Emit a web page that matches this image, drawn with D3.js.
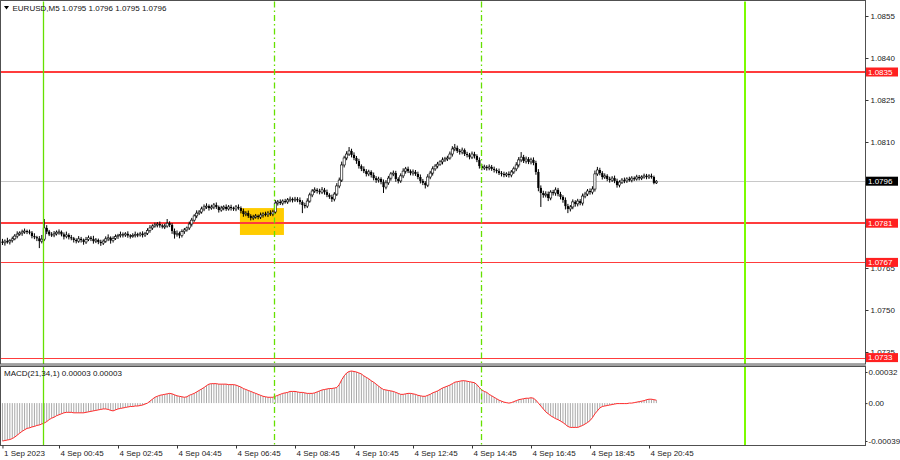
<!DOCTYPE html>
<html><head><meta charset="utf-8">
<script src="https://cdn.jsdelivr.net/npm/d3@7/dist/d3.min.js"></script>
<style>body{margin:0;background:#fff;} svg text{font-family:"Liberation Sans",Arial,sans-serif;}</style>
</head><body><svg id="c" width="900" height="460"></svg>
<script>
// ---- DATA (prices in pips above 1.0700, MACD in 1e-5) ----
const firstOpen = 74.4;
const closes = [
74.0,74.6,74.3,74.8,75.4,76.4,77.1,77.5,77.9,78.2,
78.0,77.6,76.4,76.0,75.6,74.6,75.3,79.3,78.0,77.0,
76.8,77.2,77.8,77.9,77.0,76.2,76.8,76.0,75.6,75.0,
74.6,75.4,75.0,74.3,75.2,75.8,75.4,74.6,75.0,74.3,
73.9,74.6,75.4,75.8,74.8,75.6,76.2,76.6,77.0,76.8,
77.2,76.6,76.4,76.6,77.0,76.8,77.2,76.8,77.4,78.4,
79.3,80.0,80.4,80.7,80.2,79.8,80.0,81.0,80.4,78.2,
77.0,77.4,76.6,78.0,78.6,79.3,80.7,82.1,83.6,84.6,
85.0,86.1,86.8,87.1,86.4,86.8,87.5,86.8,85.7,86.4,
86.8,86.1,86.8,86.4,86.1,86.8,86.4,85.4,84.3,84.6,
83.6,82.9,83.2,83.6,83.2,83.9,84.3,84.0,84.6,84.3,
85.0,88.2,88.6,88.2,88.9,88.6,89.3,89.6,89.3,89.6,
89.3,88.6,87.5,87.1,88.9,91.1,92.5,92.9,92.5,92.1,
92.9,92.1,91.1,90.4,89.6,91.4,94.3,96.4,101.8,104.3,
105.7,106.8,105.4,104.3,103.2,101.4,100.4,99.6,98.6,99.3,
98.2,97.1,96.4,96.8,95.7,93.9,95.4,97.1,98.6,98.9,
96.8,96.1,97.9,99.6,100.4,99.6,98.9,99.3,98.6,97.5,
96.1,95.4,94.6,97.5,98.9,100.4,101.4,102.1,102.9,103.6,
104.0,104.3,105.7,107.5,107.9,106.8,106.4,107.1,105.7,105.4,
104.6,105.7,105.0,103.6,101.4,100.7,101.1,100.7,101.1,100.4,
100.0,99.6,98.9,98.6,98.2,98.6,98.2,99.3,100.4,101.8,
103.6,104.6,103.2,103.9,102.9,103.6,102.5,99.3,93.6,91.8,
91.1,91.4,90.0,92.1,91.8,92.9,91.4,90.4,89.3,87.1,
86.1,86.8,88.6,87.9,88.9,88.2,90.7,91.4,92.5,92.1,
93.2,98.6,100.0,98.9,97.5,97.9,96.8,96.4,97.1,96.1,
94.6,95.7,96.4,96.1,96.8,96.4,97.1,96.8,97.5,97.1,
97.5,97.9,97.5,97.9,97.5,95.4,96.0];
const wickUp = [
1.0,0.6,1.2,0.5,0.8,0.7,1.0,0.6,0.8,0.9,
0.5,0.7,0.6,1.0,0.5,0.8,1.5,3.2,1.0,0.6,
0.8,1.0,0.6,0.9,0.5,0.7,1.2,0.6,0.8,0.5,
0.6,1.0,0.7,0.5,0.9,0.8,0.6,1.1,0.7,0.5,
0.8,0.6,0.9,1.2,0.5,0.7,0.8,0.6,1.0,0.7,
0.6,0.9,0.5,0.8,1.0,0.6,0.7,0.9,0.5,0.8,
1.0,0.6,0.8,0.7,0.9,0.5,0.8,1.5,0.7,0.6,
0.9,1.0,0.6,0.8,0.7,0.5,0.9,0.8,0.6,1.0,
0.7,0.8,0.9,1.0,0.6,0.8,0.7,0.9,0.5,0.8,
0.6,0.9,0.7,0.8,0.5,0.7,0.9,0.6,0.8,0.7,
0.9,0.6,0.8,0.7,0.5,0.9,0.6,0.8,0.7,1.0,
0.8,1.1,0.7,0.9,0.6,0.8,0.7,0.9,0.6,0.8,
0.7,0.9,0.6,0.8,1.0,0.8,0.7,0.9,0.6,0.8,
1.0,0.7,0.9,0.6,0.8,0.7,1.0,0.9,1.2,0.8,
1.0,1.4,0.8,0.9,0.7,0.8,0.6,0.9,0.7,0.8,
0.6,0.9,0.7,0.8,0.6,0.9,1.0,0.8,0.7,0.9,
0.8,0.6,0.9,1.0,0.7,0.8,0.6,0.9,0.7,0.8,
0.9,0.7,0.6,1.0,0.8,0.9,0.7,0.8,0.6,0.9,
0.7,0.8,0.9,1.0,1.4,0.8,0.7,0.9,0.6,0.8,
0.7,0.9,0.8,0.6,0.9,0.7,0.8,0.6,0.9,0.7,
0.8,0.6,0.9,0.7,0.8,0.6,0.9,0.7,0.8,1.0,
1.0,1.8,0.8,0.9,0.7,0.8,0.9,0.8,1.0,0.9,
0.8,1.0,0.9,0.7,0.8,0.9,0.7,0.8,0.6,0.9,
0.8,0.7,0.9,0.6,0.8,0.7,0.9,0.8,0.7,0.9,
1.0,1.2,1.1,0.8,0.7,0.9,0.6,0.8,0.7,0.9,
0.8,0.6,0.7,0.9,0.6,0.8,0.7,0.6,0.8,0.7,
0.6,0.8,0.7,0.6,0.8,0.5,0.4];
const wickDn = [
0.8,1.0,0.6,0.9,0.7,0.5,0.8,0.6,1.0,0.7,
0.9,0.6,0.8,0.7,1.0,2.5,0.8,0.7,0.9,0.6,
0.7,0.8,0.6,0.9,0.7,1.0,0.6,0.8,0.7,0.9,
0.8,0.6,0.9,1.0,0.7,0.6,0.8,0.9,0.7,0.8,
1.0,0.7,0.6,0.8,1.1,0.7,0.6,0.8,0.7,0.9,
0.7,0.8,0.9,0.6,0.7,0.8,0.6,0.9,0.7,0.6,
0.8,0.7,0.6,0.9,0.8,0.7,0.9,0.6,0.8,1.0,
1.5,0.8,1.0,0.7,0.8,0.6,0.7,0.9,0.6,0.8,
0.7,0.6,0.8,0.7,0.9,0.6,0.8,0.7,0.9,0.6,
0.8,0.7,0.6,0.9,0.7,0.8,0.6,0.9,1.0,0.8,
0.7,0.9,0.8,0.6,0.8,0.7,0.9,0.6,0.8,0.7,
0.8,0.6,0.9,0.7,0.8,0.6,0.7,0.8,0.9,0.7,
0.8,0.9,2.9,0.8,0.7,0.6,0.8,0.7,0.9,0.8,
0.7,0.9,0.8,0.7,1.0,0.8,0.7,0.8,0.7,0.9,
0.8,0.7,0.9,0.8,1.0,0.9,0.8,0.7,0.9,0.8,
0.9,0.8,1.0,0.9,0.8,2.1,0.8,0.7,0.9,0.8,
1.0,0.9,0.7,0.8,0.9,0.7,0.8,0.9,0.7,0.8,
0.9,0.8,1.2,0.7,0.8,0.9,0.7,0.8,0.6,0.9,
0.7,0.8,0.6,0.9,0.8,0.7,0.9,0.8,0.7,0.9,
0.8,0.7,0.9,0.8,0.9,0.8,0.7,0.9,0.8,0.7,
0.9,0.8,0.7,0.9,0.8,0.7,0.9,0.8,0.7,0.8,
0.9,0.8,0.7,0.9,0.8,0.9,0.8,1.0,1.2,5.0,
1.0,0.9,1.1,0.8,0.9,1.0,0.8,0.9,1.0,1.2,
1.5,0.9,0.8,1.0,0.9,0.8,0.9,0.8,0.7,0.9,
0.8,0.9,0.7,0.8,0.9,0.7,0.8,0.9,0.7,0.8,
0.9,0.8,0.7,0.8,0.7,0.6,0.8,0.7,0.6,0.8,
0.7,0.6,0.8,0.7,0.6,0.5,0.4];
const macd = [
-39,-38.5,-38,-37.5,-36.5,-35,-33,-31,-29,-27.5,
-26,-25.5,-24.5,-24,-23,-22.5,-21.5,-20.5,-19,-17,
-15.5,-14.5,-13,-12,-11,-10,-9.5,-9.5,-9.5,-10,
-10,-10,-10,-10,-9.5,-9,-8.5,-8,-7.5,-7,
-6.5,-6,-6,-6.5,-7.5,-8,-7,-6,-5.5,-5,
-4.5,-4,-3.5,-3.5,-3,-3,-2.5,-2,-1,0,
2,4,6,7,8,8.5,9,9.5,10,9.5,
8.5,7.5,7,6.5,6,6.5,8,9,10,11.5,
13,14.5,16,18,19.5,20,20,20,19.5,19.5,
19.5,19.5,19,19,19,18.5,17.5,16.5,15,14,
13,12,11,10,9,8,7,6.5,6,6,
6,7,8,9,10,10.5,11,12,12,12,
11.5,11,11,10.5,10,10,10,10.5,11.5,12.5,
13.5,14,14.5,15,15,15.5,16,19,24,28,
31,32.5,33,32.5,32,31,30,28,26.5,25,
23,21.5,19.5,17.5,15.5,14,13.5,13,12.5,12,
11,10,9,9,9.5,10,10,9.5,9,8,
7.5,7,7,8,9,10.5,11.5,12.5,14,15.5,
16.5,17.5,18.5,20,21.5,22,22.5,23,23,22.5,
22,21.5,21,19,16,13.5,12,11,9,7.5,
6,4.5,3,2,1,0.5,0,0.5,1.5,2.5,
3.5,4,4.5,5,5,5.5,5,3,0,-3,
-6,-9,-11,-13,-14.5,-16,-17,-18.5,-20,-22,
-24,-25,-25,-25,-25,-24,-23,-21.5,-20,-18,
-15,-11,-8,-5,-3.5,-3,-2.5,-2,-1.5,-1,
-0.5,-0.5,-0.5,-0.5,-0.5,0,0,0.5,1,1.5,
2,2.5,3.5,4,4,3.5,3];
const timeTickIdx = [0,23,47,71,95,119,143,167,191,215,239,263];
const timeTickLabels = ["1 Sep 2023","4 Sep 00:45","4 Sep 02:45","4 Sep 04:45","4 Sep 06:45","4 Sep 08:45","4 Sep 10:45","4 Sep 12:45","4 Sep 14:45","4 Sep 16:45","4 Sep 18:45","4 Sep 20:45"];
const priceTicks = [1.0735,1.0750,1.0765,1.0780,1.0795,1.0810,1.0825,1.0840,1.0855];
const levelPrices = [1.0835,1.0781,1.0767,1.0733];
const bidPrice = 1.0796;
const vLineIdx = [16.5,110.5,194.7,302];
const boxBars = [96.6,114.5];
const boxPrices = [1.07768,1.07864];
const macdTicks = [0.00032,0,-0.00039];
const macdTickLabels = ["0.00032","0.00","-0.00039"];
const titleText = "EURUSD,M5  1.0795 1.0796 1.0795 1.0796";
const macdTitle = "MACD(21,34,1) 0.00003 0.00003";

// ---- LAYOUT ----
const svg = d3.select("#c");
const PL=0.5, PR=865.5, MT=1.5, MB=364, ST=366.5, SB=445.5;
const P = v => 1.07 + v/10000;
const bars = closes.map((c,i)=>{
  const o = i===0 ? firstOpen : closes[i-1];
  return {i, o:P(o), c:P(c), h:P(Math.max(o,c)+wickUp[i]), l:P(Math.min(o,c)-wickDn[i])};
});
const x = d3.scaleLinear().domain([0,24]).range([2.46, 2.46+59]);
const y = d3.scaleLinear().domain([1.0733,1.0855]).range([357.6,16]);
const ym = d3.scaleLinear().domain([-0.00039,0.00032]).range([441,372]);

svg.append("rect").attr("width",900).attr("height",460).attr("fill","#fff");

svg.append("clipPath").attr("id","cm").append("rect").attr("x",PL).attr("y",MT).attr("width",PR-PL).attr("height",MB-MT);
svg.append("clipPath").attr("id","cs").append("rect").attr("x",PL).attr("y",ST).attr("width",PR-PL).attr("height",SB-ST);

const gM = svg.append("g").attr("clip-path","url(#cm)");
const gS = svg.append("g").attr("clip-path","url(#cs)");

// yellow box
gM.append("rect").attr("x",x(boxBars[0])).attr("y",y(boxPrices[1]))
  .attr("width",x(boxBars[1])-x(boxBars[0])).attr("height",y(boxPrices[0])-y(boxPrices[1]))
  .attr("fill","#ffcc00");

// bid line
gM.append("line").attr("x1",PL).attr("x2",PR).attr("y1",Math.round(y(bidPrice))+0.5).attr("y2",Math.round(y(bidPrice))+0.5)
  .attr("stroke","#c8c8c8").attr("stroke-width",1);

// level lines
const lvlW = [2,2,1,1];
levelPrices.forEach((p,k)=>{
  const yy = lvlW[k]===2 ? Math.round(y(p)) : Math.round(y(p))+0.5;
  gM.append("line").attr("x1",PL).attr("x2",PR).attr("y1",yy).attr("y2",yy)
    .attr("stroke","#ff3c3c").attr("stroke-width",lvlW[k]);
});

// vertical lines (both panels)
const vStyle = [{w:1.3,d:null},{w:1.3,d:"6,3,1.5,3"},{w:1.3,d:"6,3,1.5,3"},{w:2,d:null}];
vLineIdx.forEach((b,k)=>{
  const xx = Math.round(x(b)) + (k===3 ? 0 : 0.5);
  [[MT,MB],[ST,SB]].forEach(([a,bb])=>{
    const ln = svg.append("line").attr("x1",xx).attr("x2",xx).attr("y1",a).attr("y2",bb)
      .attr("stroke",k===3?"#7cfc00":"#66e000").attr("stroke-width",vStyle[k].w);
    if(vStyle[k].d) ln.attr("stroke-dasharray",vStyle[k].d);
  });
});

// candles
const gc = gM.append("g");
gc.selectAll("line.w").data(bars).join("line").attr("class","w")
  .attr("x1",d=>x(d.i)).attr("x2",d=>x(d.i)).attr("y1",d=>y(d.h)).attr("y2",d=>y(d.l))
  .attr("stroke","#000").attr("stroke-width",1);
gc.selectAll("rect.b").data(bars).join("rect").attr("class","b")
  .attr("x",d=>x(d.i)-1.1).attr("width",2.2)
  .attr("y",d=>y(Math.max(d.o,d.c)))
  .attr("height",d=>Math.max(1,Math.abs(y(d.o)-y(d.c))))
  .attr("fill",d=>d.c>=d.o?"#fff":"#000")
  .attr("stroke","#000").attr("stroke-width",d=>d.c>=d.o?0.6:0);

// MACD histogram + signal line
gS.selectAll("line.h").data(macd).join("line").attr("class","h")
  .attr("x1",(d,i)=>x(i)).attr("x2",(d,i)=>x(i))
  .attr("y1",ym(0)).attr("y2",d=>ym(d/1e5))
  .attr("stroke","#a8a8a8").attr("stroke-width",1);
gS.append("path").datum(macd)
  .attr("d",d3.line().x((d,i)=>x(i)).y(d=>ym(d/1e5)).curve(d3.curveLinear))
  .attr("fill","none").attr("stroke","#ff2a2a").attr("stroke-width",1);

// panel frames
svg.append("rect").attr("x",PL).attr("y",MT-1).attr("width",PR-PL).attr("height",MB-MT+1)
  .attr("fill","none").attr("stroke","#505050").attr("stroke-width",1);
svg.append("rect").attr("x",0).attr("y",MB).attr("width",PR+0.5).attr("height",ST-MB)
  .attr("fill","#a0a0a0");
svg.append("rect").attr("x",PL).attr("y",ST).attr("width",PR-PL).attr("height",SB-ST)
  .attr("fill","none").attr("stroke","#505050").attr("stroke-width",1);

// price axis (labels fully hidden under a level/bid box are left unlabeled)
const covered = p => levelPrices.concat([bidPrice]).some(l => Math.abs(y(l)-y(p)) < 3);
const ga = svg.append("g").attr("transform",`translate(${PR},0)`)
  .call(d3.axisRight(y).tickValues(priceTicks).tickFormat(d=>covered(d)?"":d3.format(".4f")(d)).tickSize(3).tickPadding(2));
ga.select(".domain").remove();
ga.selectAll("line").attr("stroke","#333");
ga.selectAll("text").attr("font-size",8).attr("fill","#222");

// level labels
levelPrices.forEach(p=>{
  const yy = y(p);
  svg.append("rect").attr("x",866).attr("y",yy-4.5).attr("width",32).attr("height",9).attr("fill","#ff2020");
  svg.append("text").attr("x",868).attr("y",yy).attr("dy","0.34em").attr("font-size",8).attr("fill","#fff").text(p.toFixed(4));
});
{
  const yy = y(bidPrice);
  svg.append("rect").attr("x",866).attr("y",yy-4.5).attr("width",32).attr("height",9).attr("fill","#000");
  svg.append("text").attr("x",868).attr("y",yy).attr("dy","0.34em").attr("font-size",8).attr("fill","#fff").text(bidPrice.toFixed(4));
}

// MACD axis
const gma = svg.append("g").attr("transform",`translate(${PR},0)`)
  .call(d3.axisRight(ym).tickValues(macdTicks).tickFormat((d,i)=>macdTickLabels[i]).tickSize(2).tickPadding(1));
gma.select(".domain").remove();
gma.selectAll("line").attr("stroke","#333");
gma.selectAll("text").attr("font-size",8).attr("fill","#222");

// time axis
const gt = svg.append("g").attr("transform",`translate(0,${SB})`)
  .call(d3.axisBottom(x).tickValues(timeTickIdx).tickFormat((d,i)=>timeTickLabels[i]).tickSize(3).tickPadding(2));
gt.select(".domain").remove();
gt.selectAll("line").attr("stroke","#333");
gt.selectAll("text").attr("font-size",8).attr("fill","#222").attr("text-anchor","start").attr("x",1).attr("dy","0.7em");

// titles
svg.append("path").attr("d","M4,6 L9,6 L6.5,9.5 Z").attr("fill","#000");
svg.append("text").attr("x",12.5).attr("y",10.5).attr("font-size",8).attr("fill","#111").text(titleText);
svg.append("text").attr("x",4).attr("y",376).attr("font-size",8).attr("fill","#111").text(macdTitle);
</script></body></html>
